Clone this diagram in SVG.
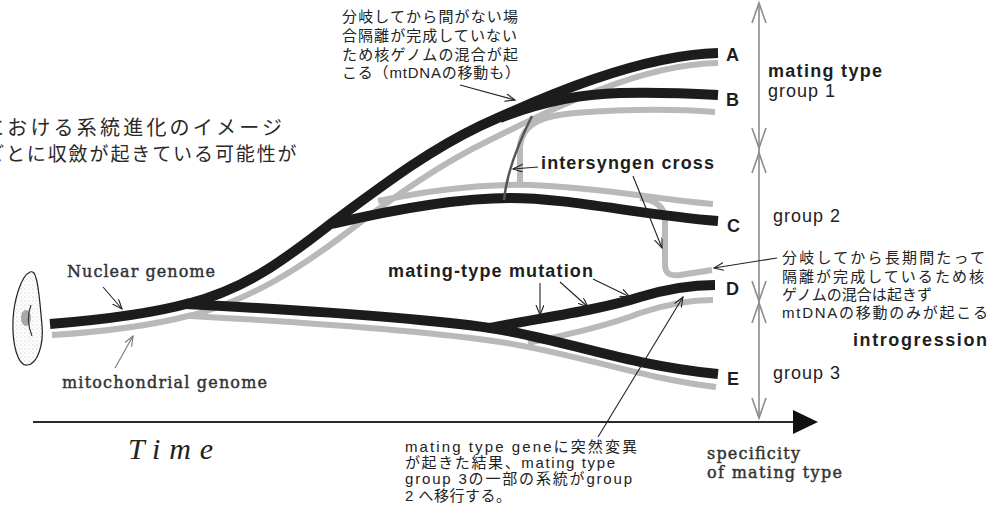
<svg xmlns="http://www.w3.org/2000/svg" width="996" height="518" viewBox="0 0 996 518">
  <defs>
    <style>
      .nuc{fill:none;stroke:#1c1c1c;stroke-width:10;stroke-linecap:butt}
      .mt{fill:none;stroke:#b9b9b9;stroke-width:6;stroke-linecap:butt}
      .lbl{font-family:"Liberation Sans","Noto Sans CJK JP",sans-serif;font-weight:bold;font-size:18px;fill:#1e1e1e}
      .grp{font-family:"Liberation Sans",sans-serif;font-size:18px;fill:#222;letter-spacing:1px}
      .jp{font-family:"Liberation Sans","Noto Sans CJK JP",sans-serif;font-size:15px;fill:#222}
      .jpl{font-family:"Noto Sans CJK JP",sans-serif;fill:#2a2a2a}
      .ser{font-family:"DejaVu Serif",serif;font-size:16px;fill:#333;stroke:#333;stroke-width:0.45}
      .ptr{fill:none;stroke:#222;stroke-width:1.1;marker-end:url(#open)}
      .ptr-g{fill:none;stroke:#777;stroke-width:1.1;marker-end:url(#open-g)}
      .scale{stroke:#8c8c8c;stroke-width:1.6;fill:none}
    </style>
    <marker id="open" markerWidth="12" markerHeight="10" refX="10" refY="4" orient="auto" markerUnits="userSpaceOnUse">
      <path d="M0,0 L10,4 L0,8" fill="none" stroke="#222" stroke-width="1.1"/>
    </marker>
    <marker id="open-g" markerWidth="12" markerHeight="10" refX="10" refY="4" orient="auto" markerUnits="userSpaceOnUse">
      <path d="M0,0 L10,4 L0,8" fill="none" stroke="#777" stroke-width="1.1"/>
    </marker>
    <pattern id="stipple" width="4" height="4" patternUnits="userSpaceOnUse">
      <circle cx="1" cy="1" r="0.5" fill="#999"/>
      <circle cx="3" cy="3" r="0.45" fill="#aaa"/>
    </pattern>
  </defs>

  <rect width="996" height="518" fill="#fff"/>

  <!-- heading lines running in from the left edge -->
  <g id="heading">
    <text class="jpl" x="-16" y="135" font-size="20" letter-spacing="3.2">における系統進化のイメージ</text>
    <text class="jpl" x="-15" y="161" font-size="19" letter-spacing="1.9">ごとに収斂が起きている可能性が</text>
  </g>

  <!-- ancestral cell -->
  <g id="cell">
    <path d="M30,272 C21,276 14,300 13,320 C12,345 18,366 27,365 C37,365 44,345 42,325 C40,305 39,287 36,278 C35,273 33,271 30,272 Z" fill="url(#stipple)" stroke="#222" stroke-width="1.2"/>
    <ellipse cx="26" cy="318" rx="5" ry="8" fill="#a8a8a8"/>
    <path d="M31,305 C27,315 28,326 32,336" fill="none" stroke="#333" stroke-width="1.2"/>
  </g>

  <!-- mitochondrial genome lineages (grey) -->
  <g id="mito">
    <path class="mt" d="M52,335 C100,332 150,326 192,315"/>
    <path class="mt" d="M190,316 C250,300 300,268 345,234 C395,196 440,164 490,140 C550,110 640,64 718,63"/>
    <path class="mt" d="M190,316 C300,322 420,330 500,342 C570,352 640,378 716,387"/>
    <path class="mt" d="M378,201 C440,188 490,184 530,185 C600,187 660,200 713,204"/>
    <path class="mt" d="M520,187 L520,148 C521,125 540,116 575,113 C640,108 690,110 715,112"/>
    <path class="mt" d="M640,198 C655,200 665,206 665,220 L665,265 C665,275 672,276 680,275 L712,270"/>
    <path class="mt" d="M528,343 C570,334 610,325 640,313 C670,303 695,300 713,300"/>
  </g>

  <!-- nuclear genome lineages (black) -->
  <g id="nuclear">
    <path class="nuc" d="M50,324 C100,320 150,314 190,303"/>
    <path class="nuc" d="M187,304 C250,288 290,255 333,222 C390,180 430,150 480,126 C545,96 640,55 718,53"/>
    <path class="nuc" d="M500,118 C540,102 580,94 620,93 C660,92 700,94 718,95"/>
    <path class="nuc" d="M332,224 C400,208 460,198 510,198 C570,198 640,215 718,221"/>
    <path class="nuc" d="M186,304 C300,310 420,318 490,328 C560,338 620,364 718,374"/>
    <path class="nuc" d="M490,328 C540,318 600,310 640,297 C670,288 695,285 715,285"/>
  </g>

  <!-- intersyngen exchange -->
  <g id="cross">
    <path d="M532,116 C520,140 507,170 504,200" fill="none" stroke="#555" stroke-width="2.5"/>
  </g>

  <!-- lineage tips -->
  <g id="tip-A"><text class="lbl" x="726" y="61">A</text></g>
  <g id="tip-B"><text class="lbl" x="726" y="106">B</text></g>
  <g id="tip-C"><text class="lbl" x="727" y="232">C</text></g>
  <g id="tip-D"><text class="lbl" x="726" y="295">D</text></g>
  <g id="tip-E"><text class="lbl" x="727" y="385">E</text></g>

  <!-- mating type scale -->
  <g id="scale">
    <line class="scale" x1="759" y1="3" x2="759" y2="418"/>
    <path class="scale" d="M752,23 L759,3 L766,23"/>
    <path class="scale" d="M752,128 L759,148 L766,128"/>
    <path class="scale" d="M752,173 L759,153 L766,173"/>
    <path class="scale" d="M752,281 L759,301 L766,281"/>
    <path class="scale" d="M752,323 L759,303 L766,323"/>
    <path class="scale" d="M752,398 L759,418 L766,398"/>
  </g>
  <g id="group-1">
    <text class="lbl" x="768" y="77" textLength="114" lengthAdjust="spacing">mating type</text>
    <text class="grp" x="768" y="97">group 1</text>
  </g>
  <g id="group-2"><text class="grp" x="773" y="222">group 2</text></g>
  <g id="group-3"><text class="grp" x="773" y="379">group 3</text></g>

  <!-- time axis -->
  <g id="time-axis">
    <line x1="33" y1="422" x2="795" y2="422" stroke="#2a2a2a" stroke-width="2.2"/>
    <path d="M793,410 L818,422 L793,434 Z" fill="#111"/>
    <text x="128" y="459" font-family="Liberation Serif,serif" font-style="italic" font-size="30" fill="#222" textLength="85" lengthAdjust="spacing">Time</text>
    <text class="ser" x="707" y="459" textLength="93" lengthAdjust="spacing">specificity</text>
    <text class="ser" x="707" y="478" textLength="135" lengthAdjust="spacing">of mating type</text>
  </g>

  <!-- annotations -->
  <g id="note-genomes">
    <text class="ser" x="67" y="277" font-size="17" textLength="148" lengthAdjust="spacing">Nuclear genome</text>
    <text class="ser" x="62" y="388" font-size="17" textLength="205" lengthAdjust="spacing">mitochondrial genome</text>
  </g>
  <g id="note-early">
    <text class="jp" x="342" y="22" textLength="176" lengthAdjust="spacing">分岐してから間がない場</text>
    <text class="jp" x="342" y="41" textLength="175" lengthAdjust="spacing">合隔離が完成していない</text>
    <text class="jp" x="342" y="60" textLength="176" lengthAdjust="spacing">ため核ゲノムの混合が起</text>
    <text class="jp" x="342" y="78" textLength="178" lengthAdjust="spacing">こる（mtDNAの移動も）</text>
  </g>
  <g id="note-cross">
    <text class="lbl" x="541" y="169" textLength="173" lengthAdjust="spacing">intersyngen cross</text>
  </g>
  <g id="note-late">
    <text class="jp" x="782" y="263" textLength="203" lengthAdjust="spacing">分岐してから長期間たって</text>
    <text class="jp" x="782" y="282" textLength="202" lengthAdjust="spacing">隔離が完成しているため核</text>
    <text class="jp" x="782" y="300" textLength="150" lengthAdjust="spacing">ゲノムの混合は起きず</text>
    <text class="jp" x="782" y="318" textLength="206" lengthAdjust="spacing">mtDNAの移動のみが起こる</text>
    <text class="lbl" x="853" y="346" textLength="134" lengthAdjust="spacing">introgression</text>
  </g>
  <g id="note-mutation">
    <text class="lbl" x="388" y="277" textLength="205" lengthAdjust="spacing">mating-type mutation</text>
  </g>
  <g id="note-shift">
    <text class="jp" x="405" y="452" textLength="232" lengthAdjust="spacing">mating type geneに突然変異</text>
    <text class="jp" x="405" y="468" textLength="210" lengthAdjust="spacing">が起きた結果、mating type</text>
    <text class="jp" x="405" y="484" textLength="227" lengthAdjust="spacing">group 3の一部の系統がgroup</text>
    <text class="jp" x="405" y="501" textLength="106" lengthAdjust="spacing">2 へ移行する。</text>
  </g>

  <!-- connectors -->
  <g id="connectors">
    <path class="ptr" d="M460,85 L515,100"/>
    <path class="ptr" d="M538,167 L513,169"/>
    <path class="ptr" d="M633,176 L662,248"/>
    <path class="ptr" d="M777,258 L714,268"/>
    <path class="ptr" d="M540,283 L540,315"/>
    <path class="ptr" d="M560,282 L588,307"/>
    <path class="ptr" d="M593,279 L630,297"/>
    <path class="ptr" d="M598,437 L683,297"/>
    <path class="ptr" d="M103,287 L122,309"/>
    <path class="ptr-g" d="M115,368 L133,336"/>
  </g>
</svg>
